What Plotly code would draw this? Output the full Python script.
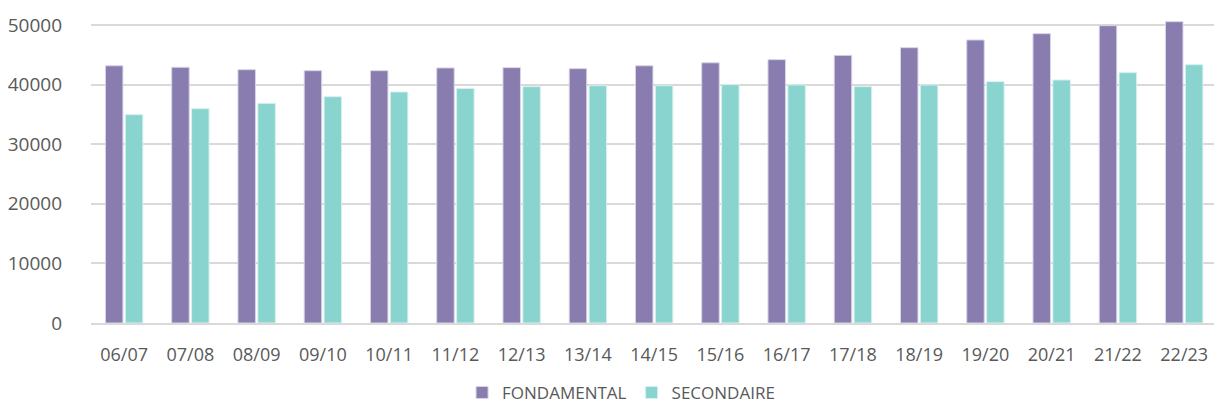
import plotly.graph_objects as go

years = ["06/07", "07/08", "08/09", "09/10", "10/11", "11/12", "12/13", "13/14", "14/15",
         "15/16", "16/17", "17/18", "18/19", "19/20", "20/21", "21/22", "22/23"]
fondamental = [43150, 42900, 42500, 42330, 42330, 42790, 42840, 42670, 43150,
               43650, 44180, 44900, 46190, 47480, 48540, 49880, 50550]
secondaire = [34950, 35960, 36850, 37970, 38760, 39360, 39650, 39820, 39820,
              39990, 39930, 39650, 39930, 40490, 40770, 42000, 43340]

FONT = "Open Sans"
GREY = "#595959"

fig = go.Figure()
fig.add_trace(go.Bar(
    x=years, y=fondamental, name="FONDAMENTAL",
    marker=dict(color="#887DAE", line=dict(color="#D8D4E6", width=1)),
))
fig.add_trace(go.Bar(
    x=years, y=secondaire, name="SECONDAIRE",
    marker=dict(color="#89D4CF", line=dict(color="#D6F0EE", width=1)),
))

fig.update_layout(
    width=1214,
    height=410,
    # autoexpand off: the legend must not push the plot area up
    margin=dict(l=91, r=0, t=19, b=87, autoexpand=False),
    barmode="group",
    bargap=0.4,
    bargroupgap=0.12,
    plot_bgcolor="#FFFFFF",
    paper_bgcolor="#FFFFFF",
    font=dict(family=FONT, size=18, color=GREY),
    legend=dict(
        orientation="h", x=0.472, xanchor="center", y=-0.23, yanchor="middle",
        font=dict(size=17, color=GREY), itemwidth=30,
    ),
    xaxis=dict(
        range=[-0.5, 16.45],
        automargin=False,
        showgrid=False,
        showline=True, linecolor="#D9D9D9", linewidth=2,
        ticks="", ticklabelstandoff=14,
        tickfont=dict(size=18, color=GREY),
    ),
    yaxis=dict(
        range=[0, 51000],
        automargin=False,
        tickvals=[0, 10000, 20000, 30000, 40000, 50000],
        ticktext=["0", "10000", "20000", "30000", "40000", "50000"],
        showgrid=True, gridcolor="#D9D9D9", gridwidth=1.5,
        zeroline=False, ticks="", ticklabelstandoff=28,
        tickfont=dict(size=19, color=GREY),
    ),
)

# drop the default page margin so the 1214x410 figure fills the window exactly
page_fix = (
    "document.body.style.margin = '0';"
    "document.body.style.overflow = 'hidden';"
    "document.documentElement.style.overflow = 'hidden';"
)
fig.write_html("out.html", config={"displayModeBar": False}, post_script=page_fix)
